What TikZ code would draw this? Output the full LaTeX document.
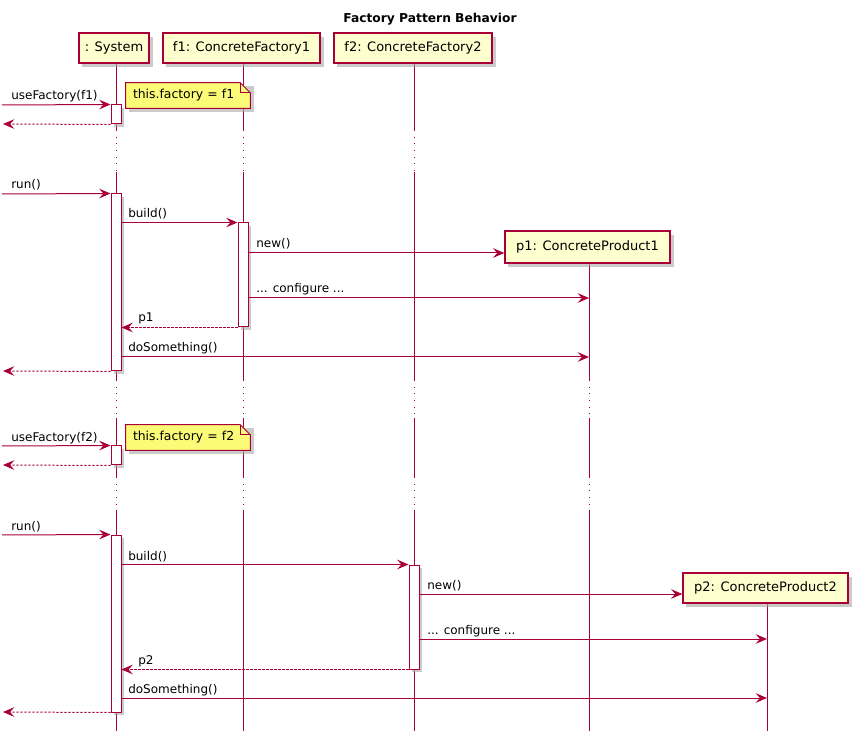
\documentclass[tikz,border=0pt]{standalone}
\usepackage{fontspec}
\setmainfont{DejaVu Sans}
\usetikzlibrary{arrows.meta}
\definecolor{umlred}{HTML}{A80036}
\definecolor{partfill}{HTML}{FEFECE}
\definecolor{notefill}{HTML}{FBFB77}
\definecolor{shadowc}{HTML}{A8A8A8}
\begin{document}
\begin{tikzpicture}[x=0.75pt,y=-0.75pt,
  part/.style={draw=umlred, line width=1pt, fill=partfill, inner sep=0pt,
    minimum height=22.5pt, font=\fontsize{9.75}{11}\selectfont},
  pshadow/.style={fill=shadowc, opacity=0.6},
  act/.style={draw=umlred, line width=0.75pt, fill=white, inner sep=0pt, minimum width=7.5pt},
  life/.style={draw=umlred, line width=0.75pt},
  lifedot/.style={draw=umlred, line width=0.75pt, dash pattern=on 0.75pt off 4.25pt},
  msg/.style={draw=umlred, line width=0.75pt, -{Stealth[length=8.5pt,width=7.2pt,inset=3.2pt]}},
  ret/.style={msg, dash pattern=on 1.6pt off 1.4pt},
  lbl/.style={anchor=base west, inner sep=0pt, font=\fontsize{9}{10}\selectfont},
  notebox/.style={inner xsep=5.25pt, inner ysep=0pt, text width=82.5pt, align=left,
    minimum height=18.75pt, font=\fontsize{9.3}{10}\selectfont},
]
\useasboundingbox (0,0) rectangle (857,741);
% title
\node[font=\fontsize{9.2}{11}\bfseries\selectfont] (title) at (430,19) {Factory Pattern Behavior};

% lifeline coordinates
\coordinate (Lsys) at (116,63);
\coordinate (Lf1) at (243,63);
\coordinate (Lf2) at (414,63);
\coordinate (Lp1) at (589,263);
\coordinate (Lp2) at (767,603);

% lifelines
\foreach \x in {116,243,414}{
  \draw[life] (\x,63) -- (\x,130);
  \draw[lifedot] (\x,130) -- (\x,172);
  \draw[life] (\x,172) -- (\x,380);
  \draw[lifedot] (\x,380) -- (\x,418);
  \draw[life] (\x,418) -- (\x,477);
  \draw[lifedot] (\x,477) -- (\x,510);
  \draw[life] (\x,510) -- (\x,731);
}
\draw[life] (589,263) -- (589,380);
\draw[lifedot] (589,380) -- (589,418);
\draw[life] (589,418) -- (589,477);
\draw[lifedot] (589,477) -- (589,510);
\draw[life] (589,510) -- (589,731);
\draw[life] (767,603) -- (767,731);

% participants (shadows first)
\fill[pshadow] (82,37) rectangle (153,67);
\fill[pshadow] (166,37) rectangle (324,67);
\fill[pshadow] (337,37) rectangle (496,67);
\fill[pshadow] (508,235) rectangle (674,267);
\fill[pshadow] (686,577) rectangle (852,607);
\node[part, minimum width=52.5pt] (sys) at (114,48) {: System};
\node[part, minimum width=117.75pt] (f1) at (241.5,48) {f1: ConcreteFactory1};
\node[part, minimum width=118.5pt] (f2) at (413,48) {f2: ConcreteFactory2};
\node[part, minimum width=123.75pt, minimum height=24pt] (p1) at (587.5,247) {p1: ConcreteProduct1};
\node[part, minimum width=123.75pt] (p2) at (765.5,588) {p2: ConcreteProduct2};

% notes
\foreach \n/\y/\t in {n1/95.5/{this.factory = f1}, n2/437.5/{this.factory = f2}}{
  \fill[pshadow] (129,\y-9.5) rectangle (254,\y+16.5);
  \node[notebox] (\n) at (188,\y) {\t};
  \draw[umlred, line width=0.75pt, fill=notefill]
    (\n.north west) -- ([xshift=-7.5pt]\n.north east) -- ([yshift=-7.5pt]\n.north east)
    -- (\n.south east) -- (\n.south west) -- cycle;
  \draw[umlred, line width=0.75pt]
    ([xshift=-7.5pt]\n.north east) -- ([xshift=-7.5pt,yshift=-7.5pt]\n.north east)
    -- ([yshift=-7.5pt]\n.north east);
  \node[notebox] at (\n.center) {\t};
}

% activations (with shadows)
\foreach \x/\a/\b in {116/105/124, 116/194/371, 243/223/327, 116/446/465, 116/535/712, 414/565/669}{
  \fill[pshadow] (\x-2,\a+3) rectangle (\x+8,\b+3);
}
\node[act, minimum height=14.25pt] (A1) at (116,114.5) {};
\node[act, minimum height=132.75pt] (A2) at (116,282.5) {};
\node[act, minimum height=78pt] (A3) at (243,275) {};
\node[act, minimum height=14.25pt] (A4) at (116,455.5) {};
\node[act, minimum height=132.75pt] (A5) at (116,623.5) {};
\node[act, minimum height=78pt] (A6) at (414,617) {};

% free ends
\coordinate (i1) at (2,105);
\coordinate (o1) at (3,124);
\coordinate (i2) at (2,194);
\coordinate (o2) at (3,371);
\coordinate (i3) at (2,446);
\coordinate (o3) at (3,465);
\coordinate (i4) at (2,535);
\coordinate (o4) at (3,712);

% first block
\draw[msg] (i1) -- (A1.north west);
\node[lbl] at (11,100) {useFactory(f1)};
\draw[ret] (A1.south west) -- (o1);

\draw[msg] (i2) -- (A2.north west);
\node[lbl] at (11,189) {run()};
\draw[msg] (A2.east |- A3.north) -- (A3.north west);
\node[lbl] at (128,218) {build()};
\draw[msg] (A3.east |- 0,253) -- (p1.west |- 0,253);
\node[lbl] at (256,248) {new()};
\draw[msg] (A3.east |- 0,298) -- (Lp1 |- 0,298);
\node[lbl] at (256,293) {... configure ...};
\draw[ret] (A3.south west) -- (A2.east |- A3.south);
\node[lbl] at (138,322) {p1};
\draw[msg] (A2.east |- 0,357) -- (Lp1 |- 0,357);
\node[lbl] at (128,352) {doSomething()};
\draw[ret] (A2.south west) -- (o2);

% second block
\draw[msg] (i3) -- (A4.north west);
\node[lbl] at (11,441) {useFactory(f2)};
\draw[ret] (A4.south west) -- (o3);

\draw[msg] (i4) -- (A5.north west);
\node[lbl] at (11,530) {run()};
\draw[msg] (A5.east |- A6.north) -- (A6.north west);
\node[lbl] at (128,560) {build()};
\draw[msg] (A6.east |- 0,594) -- (p2.west |- 0,594);
\node[lbl] at (427,589) {new()};
\draw[msg] (A6.east |- 0,639) -- (Lp2 |- 0,639);
\node[lbl] at (427,634) {... configure ...};
\draw[ret] (A6.south west) -- (A5.east |- A6.south);
\node[lbl] at (138,664) {p2};
\draw[msg] (A5.east |- 0,698) -- (Lp2 |- 0,698);
\node[lbl] at (128,693) {doSomething()};
\draw[ret] (A5.south west) -- (o4);
\end{tikzpicture}
\end{document}
